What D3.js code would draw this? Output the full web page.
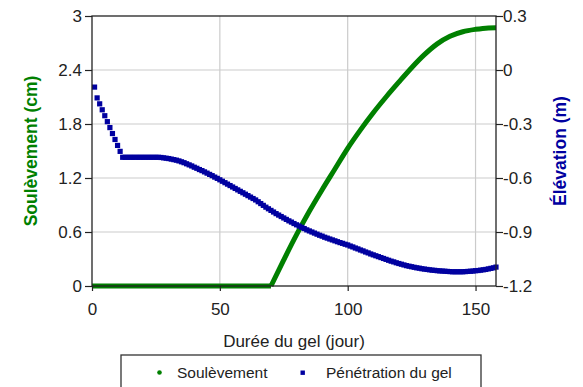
<!DOCTYPE html>
<html>
<head>
<meta charset="utf-8">
<script src="https://cdn.jsdelivr.net/npm/d3@7"></script>
<style>
  body { margin: 0; background: #fff; }
  text { font-family: "Liberation Sans", Arial, sans-serif; }
</style>
</head>
<body>
<script>
var width = 583,
    height = 387,
    margin = { top: 16, right: 87, bottom: 101, left: 92 };

// Soulèvement (cm) vs day
var heaveDays = [0, 70, 75, 80, 85, 90, 95, 100, 105, 110, 115, 120, 125, 130, 135, 140, 145, 150, 155, 158];
var heaveCm   = [0, 0, 0.29, 0.57, 0.83, 1.07, 1.30, 1.53, 1.735, 1.925, 2.10, 2.265, 2.425, 2.57, 2.69, 2.775, 2.825, 2.852, 2.868, 2.87];

// Pénétration du gel, élévation (m), one reading per day from day 1 to day 158
var frostDays = d3.range(1, 159);
var frostElev = [
    -0.095, -0.155, -0.188, -0.221, -0.254, -0.287, -0.32, -0.353, -0.386, -0.419,   // 1-10
    -0.452, -0.485, -0.485, -0.485, -0.485, -0.485, -0.485, -0.485, -0.485, -0.485,  // 11-20
    -0.485, -0.485, -0.485, -0.485, -0.485, -0.485, -0.486, -0.488, -0.49, -0.492,   // 21-30
    -0.495, -0.498, -0.501, -0.505, -0.51, -0.515, -0.521, -0.527, -0.533, -0.54,    // 31-40
    -0.546, -0.553, -0.559, -0.566, -0.573, -0.58, -0.587, -0.595, -0.602, -0.61,    // 41-50
    -0.618, -0.626, -0.634, -0.642, -0.65, -0.658, -0.666, -0.674, -0.682, -0.69,    // 51-60
    -0.698, -0.706, -0.714, -0.722, -0.732, -0.742, -0.752, -0.762, -0.771, -0.78,   // 61-70
    -0.789, -0.798, -0.806, -0.814, -0.822, -0.83, -0.838, -0.845, -0.853, -0.86,    // 71-80
    -0.867, -0.874, -0.881, -0.888, -0.894, -0.9, -0.906, -0.912, -0.918, -0.923,    // 81-90
    -0.929, -0.934, -0.939, -0.944, -0.949, -0.954, -0.959, -0.963, -0.968, -0.972,  // 91-100
    -0.978, -0.983, -0.989, -0.994, -1.0, -1.005, -1.011, -1.016, -1.022, -1.027,    // 101-110
    -1.032, -1.037, -1.042, -1.047, -1.052, -1.057, -1.062, -1.066, -1.071, -1.075,  // 111-120
    -1.079, -1.083, -1.087, -1.09, -1.093, -1.096, -1.099, -1.101, -1.104, -1.106,   // 121-130
    -1.108, -1.11, -1.112, -1.113, -1.115, -1.116, -1.117, -1.118, -1.119, -1.12,    // 131-140
    -1.121, -1.121, -1.121, -1.121, -1.121, -1.12, -1.119, -1.118, -1.117, -1.115,   // 141-150
    -1.114, -1.112, -1.11, -1.108, -1.105, -1.102, -1.099, -1.095                    // 151-158
];

var xTicks = [0, 50, 100, 150],
    leftTicks = [0, 0.6, 1.2, 1.8, 2.4, 3],
    leftLabels = ["0", "0.6", "1.2", "1.8", "2.4", "3"],
    rightTicks = [-1.2, -0.9, -0.6, -0.3, 0, 0.3],
    rightLabels = ["-1.2", "-0.9", "-0.6", "-0.3", "0", "0.3"];

var green = "#008000",
    blue = "#0000a0";

var svg = d3.select("body").append("svg")
    .attr("width", width)
    .attr("height", height);

var w = width - margin.left - margin.right,
    h = height - margin.top - margin.bottom;

var x = d3.scaleLinear().domain([0, 158]).range([0, w]),
    yL = d3.scaleLinear().domain([0, 3]).range([h, 0]),
    yR = d3.scaleLinear().domain([-1.2, 0.3]).range([h, 0]);

var g = svg.append("g")
    .attr("transform", "translate(" + margin.left + "," + margin.top + ")");

// grid
g.selectAll(".gx").data(xTicks.slice(1))
    .enter().append("line")
    .attr("x1", x).attr("x2", x)
    .attr("y1", 0).attr("y2", h)
    .attr("stroke", "#cbcbcb").attr("stroke-width", 1.2);

g.selectAll(".gy").data(leftTicks.slice(1, -1))
    .enter().append("line")
    .attr("x1", 0).attr("x2", w)
    .attr("y1", yL).attr("y2", yL)
    .attr("stroke", "#cbcbcb").attr("stroke-width", 1.2);

// heave: flat part then the rising curve (kept separate so the kink stays sharp)
var heave = heaveDays.map(function(d, i) { return [d, heaveCm[i]]; });
var heaveLine = d3.line()
    .x(function(d) { return x(d[0]); })
    .y(function(d) { return yL(d[1]); });

g.append("path")
    .datum(heave.slice(0, 2))
    .attr("fill", "none")
    .attr("stroke", green)
    .attr("stroke-width", 5)
    .attr("d", heaveLine);

g.append("path")
    .datum(heave.slice(1))
    .attr("fill", "none")
    .attr("stroke", green)
    .attr("stroke-width", 5)
    .attr("stroke-linejoin", "round")
    .attr("d", heaveLine.curve(d3.curveMonotoneX));

// frost markers
var frost = frostDays.map(function(d, i) { return [d, frostElev[i]]; });
g.selectAll(".m").data(frost)
    .enter().append("rect")
    .attr("x", function(d) { return x(d[0]) - 2.6; })
    .attr("y", function(d) { return yR(d[1]) - 2.6; })
    .attr("width", 5.2)
    .attr("height", 5.2)
    .attr("fill", blue);

// axes
function style(sel) {
    sel.select(".domain").remove();
    sel.selectAll("line").attr("stroke", "#222").attr("stroke-width", 1.2);
    sel.selectAll("text").attr("fill", "#222").style("font-size", "17px")
        .style("font-family", "'Liberation Sans', Arial, sans-serif");
}

g.append("g")
    .attr("transform", "translate(0," + h + ")")
    .call(d3.axisBottom(x).tickValues(xTicks).tickSize(5).tickPadding(12).tickFormat(d3.format("d")))
    .call(style);

g.append("g")
    .call(d3.axisLeft(yL).tickValues(leftTicks).tickSize(7).tickPadding(3)
        .tickFormat(function(d, i) { return leftLabels[i]; }))
    .call(style);

g.append("g")
    .attr("transform", "translate(" + w + ",0)")
    .call(d3.axisRight(yR).tickValues(rightTicks).tickSize(7).tickPadding(0)
        .tickFormat(function(d, i) { return rightLabels[i]; }))
    .call(style);

g.append("rect")
    .attr("width", w).attr("height", h)
    .attr("fill", "none")
    .attr("stroke", "#222").attr("stroke-width", 1.3);

// titles
svg.append("text")
    .attr("x", margin.left + w / 2)
    .attr("y", 346.5)
    .attr("text-anchor", "middle")
    .style("font-size", "17px")
    .attr("fill", "#222")
    .text("Durée du gel (jour)");

svg.append("text")
    .attr("transform", "translate(36.5," + (margin.top + h / 2) + ") rotate(-90)")
    .attr("text-anchor", "middle")
    .style("font-size", "17.5px")
    .style("font-weight", "bold")
    .attr("fill", green)
    .text("Soulèvement (cm)");

svg.append("text")
    .attr("transform", "translate(566," + (margin.top + h / 2) + ") rotate(-90)")
    .attr("text-anchor", "middle")
    .style("font-size", "17.5px")
    .style("font-weight", "bold")
    .attr("fill", blue)
    .text("Élévation (m)");

// legend
var lg = svg.append("g");
lg.append("rect")
    .attr("x", 121).attr("y", 355)
    .attr("width", 360).attr("height", 45)
    .attr("fill", "#fff")
    .attr("stroke", "#333").attr("stroke-width", 1.3);

lg.append("circle")
    .attr("cx", 159.5).attr("cy", 372.5).attr("r", 2.3)
    .attr("fill", green);
lg.append("text")
    .attr("x", 177).attr("y", 377.5)
    .style("font-size", "15.5px")
    .attr("fill", "#222")
    .text("Soulèvement");

lg.append("rect")
    .attr("x", 300.5).attr("y", 370.5).attr("width", 4.4).attr("height", 4.4)
    .attr("fill", blue);
lg.append("text")
    .attr("x", 326).attr("y", 377.5)
    .style("font-size", "15.5px")
    .attr("fill", "#222")
    .text("Pénétration du gel");
</script>
</body>
</html>
